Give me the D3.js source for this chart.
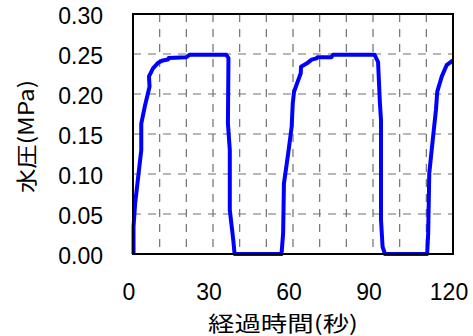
<!DOCTYPE html>
<html><head><meta charset="utf-8">
<script src="https://cdn.jsdelivr.net/npm/d3@7"></script>
<style>body{margin:0;background:#fff}svg{display:block}</style>
</head><body>
<svg id="c" width="473" height="336"></svg>
<script>
const timeSec = [0.2,0.2,0.8,3.1,3.1,4.4,6.2,6.0,7.5,9.4,11.2,13.1,13.4,20,21.2,35,35.8,35.6,36.3,36.3,37.6,38.1,
  55.7,56.3,56.6,58.2,59.5,59.9,60.4,62.9,63,65.1,67,68.8,69.2,74.4,75,90.6,91.9,92.6,93,93,93.6,94.5,
  110.3,110.7,111.1,112.4,113.6,114.1,115.8,117.6,120];
const pressure = [0,0.034,0.063,0.13,0.163,0.184,0.209,0.222,0.232,0.239,0.242,0.243,0.245,0.246,0.249,0.249,0.245,0.163,0.13,0.055,0.0175,0,
  0,0.026,0.088,0.126,0.159,0.188,0.203,0.226,0.234,0.238,0.243,0.2445,0.246,0.246,0.249,0.249,0.24,0.188,0.1675,0.0425,0.009,0,
  0,0.026,0.101,0.1425,0.18,0.203,0.222,0.236,0.242];
const xTicks = [0,30,60,90,120];
const yTicks = [0,0.05,0.10,0.15,0.20,0.25,0.30];
const xGrid = [10,20,30,40,50,60,70,80,90,100,110];
const xTitle = "経過時間(秒)";
const yTitle = "水圧(MPa)";

const svg = d3.select("#c");
const L=133, R=453, T=14, B=254;
const x = d3.scaleLinear().domain([0,120]).range([L,R]);
const y = d3.scaleLinear().domain([0,0.30]).range([B,T]);

const g = svg.append("g");
g.selectAll(".vg").data(xGrid).join("line")
  .attr("x1",d=>x(d)).attr("x2",d=>x(d)).attr("y1",T).attr("y2",B)
  .attr("stroke","#707070").attr("stroke-width",1.2).attr("stroke-dasharray","8,7");
g.selectAll(".hg").data(yTicks.filter(v=>v>0&&v<0.3)).join("line")
  .attr("x1",L).attr("x2",R).attr("y1",d=>y(d)).attr("y2",d=>y(d))
  .attr("stroke","#707070").attr("stroke-width",1.2).attr("stroke-dasharray","8,7");

const pts = timeSec.map((t,i)=>[t,pressure[i]]);
svg.append("path").datum(pts)
  .attr("d", d3.line().x(d=>x(d[0])).y(d=>y(d[1])))
  .attr("fill","none").attr("stroke","#0000ff").attr("stroke-width",4)
  .attr("stroke-linejoin","round");

svg.append("rect").attr("x",L).attr("y",T).attr("width",R-L).attr("height",B-T)
  .attr("fill","none").attr("stroke","#000").attr("stroke-width",2);

const xAxis = d3.axisBottom(x).tickValues(xTicks).tickSize(0).tickFormat(d3.format("d"));
const xa = svg.append("g").attr("transform",`translate(-4.5,${B})`).call(xAxis);
xa.select(".domain").remove();
xa.selectAll("text").attr("y",46).attr("dy",0).attr("fill","#000")
  .style("font-family","'Liberation Sans',Arial,sans-serif").style("font-size","23px");

const yAxis = d3.axisLeft(y).tickValues(yTicks).tickSize(0).tickFormat(d3.format(".2f"));
const ya = svg.append("g").attr("transform",`translate(${L},2.5)`).call(yAxis);
ya.select(".domain").remove();
ya.selectAll("text").attr("x",-30).attr("fill","#000")
  .style("font-family","'Liberation Sans',Arial,sans-serif").style("font-size","23px");

svg.append("text").attr("x",283).attr("y",331).attr("text-anchor","middle")
  .attr("textLength",150).attr("lengthAdjust","spacingAndGlyphs")
  .style("font-family","'Noto Sans CJK JP',sans-serif").style("font-size","21px")
  .text(xTitle);
svg.append("text").attr("transform","translate(34,136.5) rotate(-90)").attr("text-anchor","middle")
  .attr("textLength",113).attr("lengthAdjust","spacingAndGlyphs")
  .style("font-family","'Noto Sans CJK JP',sans-serif").style("font-size","21px")
  .text(yTitle);
</script>
</body></html>
